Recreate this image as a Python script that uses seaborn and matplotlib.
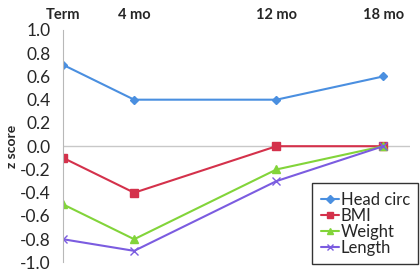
import pandas as pd
import matplotlib
matplotlib.use("Agg")
import matplotlib.pyplot as plt
import seaborn as sns

# Data
months = [0, 4, 12, 18]
tick_labels = ["Term", "4 mo", "12 mo", "18 mo"]
head_circ = [0.7, 0.4, 0.4, 0.6]
bmi = [-0.1, -0.4, 0.0, 0.0]
weight = [-0.5, -0.8, -0.2, 0.0]
length = [-0.8, -0.9, -0.3, 0.0]
series_names = ["Head circ", "BMI", "Weight", "Length"]
series_values = [head_circ, bmi, weight, length]

sns.set_style("white")
plt.rcParams["font.family"] = ["Lato", "DejaVu Sans"]

palette = {"Head circ": "#4a8fe0", "BMI": "#d4314b",
           "Weight": "#82d43a", "Length": "#7b5ce0"}
markers = {"Head circ": "D", "BMI": "s", "Weight": "^", "Length": "x"}
msizes = {"Head circ": 4.5, "BMI": 6, "Weight": 6, "Length": 6}

fig = plt.figure(figsize=(4.2, 2.72), dpi=100)
ax = fig.add_axes([0.15, 0.035, 0.826, 0.855])

for name, vals in zip(series_names, series_values):
    d = pd.DataFrame({"month": months, "z": vals})
    sns.lineplot(data=d, x="month", y="z", color=palette[name],
                 marker=markers[name], markersize=msizes[name],
                 markeredgecolor=palette[name], markeredgewidth=1,
                 linewidth=1.5, ax=ax, label=name, legend=False)

ax.set_xlim(0, 19.5)
ax.set_ylim(-1.0, 1.0)
ax.set_yticks([-1.0, -0.8, -0.6, -0.4, -0.2, 0.0, 0.2, 0.4, 0.6, 0.8, 1.0])
ax.set_yticklabels([f"{v:.1f}" for v in ax.get_yticks()], fontsize=12.5)
ax.tick_params(axis="y", length=0, pad=9)

ax.xaxis.tick_top()
ax.set_xticks(months)
ax.set_xticklabels(tick_labels, fontsize=10.5, fontweight="bold")
ax.tick_params(axis="x", length=0, pad=6)
ax.set_xlabel("")
ax.set_ylabel("z score", fontsize=10, fontweight="bold", labelpad=1)

for s in ["top", "right", "bottom"]:
    ax.spines[s].set_visible(False)
ax.spines["left"].set_color("#b8b8b8")
ax.axhline(0, color="#c8c8c8", linewidth=1, zorder=0)

handles = [plt.Line2D([], [], color=palette[n], marker=markers[n],
                      markersize=4, linewidth=1.5) for n in series_names]
leg = fig.legend(handles, series_names, loc="center",
                 bbox_to_anchor=(0.87, 0.178), fontsize=12, frameon=True,
                 fancybox=False, handlelength=1.1, handletextpad=0.1,
                 labelspacing=0.0, borderpad=0.5, borderaxespad=0)
leg.get_frame().set_edgecolor("black")
leg.get_frame().set_linewidth(1)

fig.savefig("out.png", dpi=100)
